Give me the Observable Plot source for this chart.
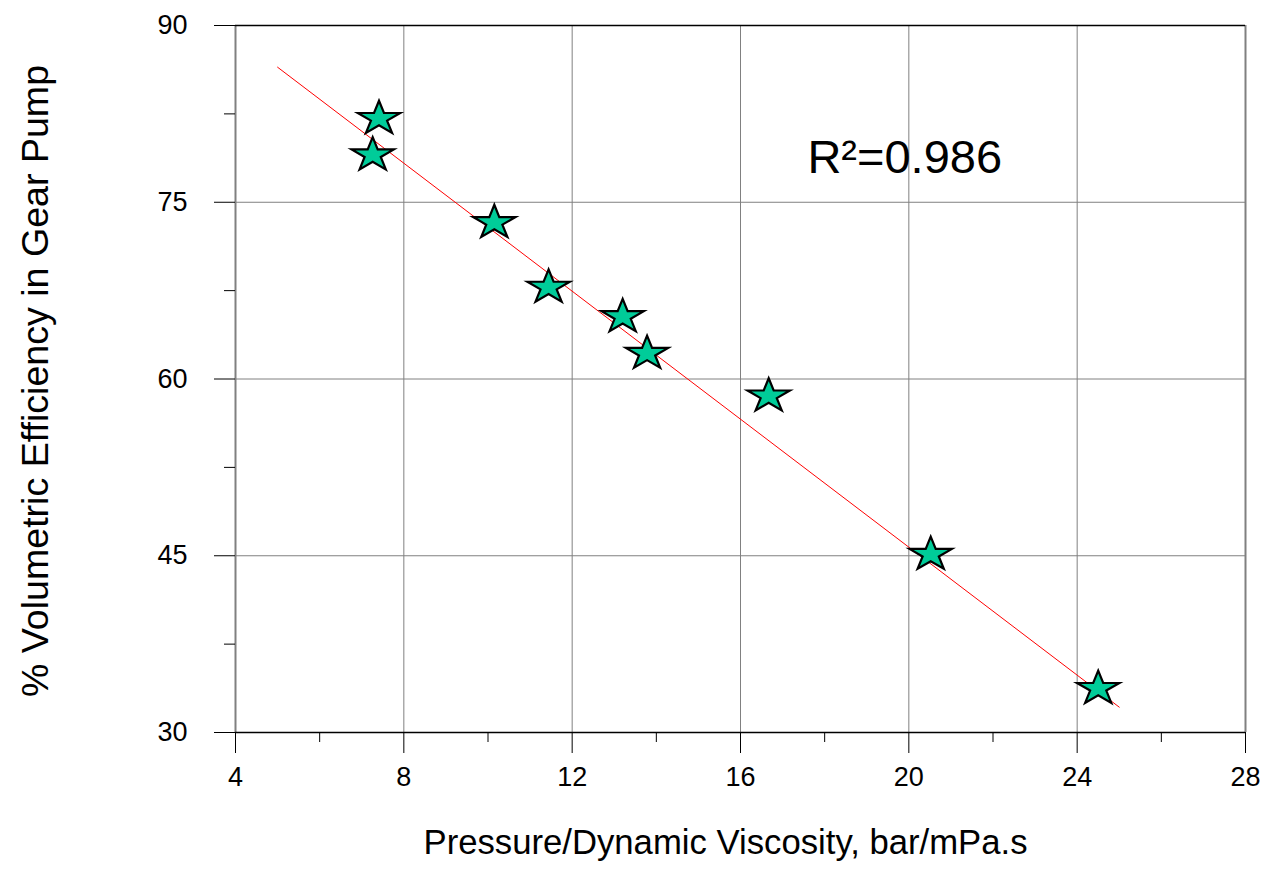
<!DOCTYPE html>
<html><head><meta charset="utf-8">
<script src="https://cdn.jsdelivr.net/npm/d3@7"></script>
<script src="https://cdn.jsdelivr.net/npm/@observablehq/plot@0.6"></script>
<style>html,body{margin:0;padding:0;background:#fff}</style>
</head><body><div id="chart"></div>
<script>
// Data
const pressureVisc = [7.41, 7.26, 10.15, 11.44, 13.20, 13.78, 16.67, 20.52, 24.50];
const efficiency   = [82.25, 79.16, 73.42, 67.93, 65.43, 62.32, 58.70, 45.26, 33.88];
const fitX = [5, 25];
const fitY = [86.46, 32.15];
const xMajor = [4, 8, 12, 16, 20, 24, 28];
const xMinor = [6, 10, 14, 18, 22, 26];
const yMajor = [30, 45, 60, 75, 90];
const yMinor = [37.5, 52.5, 67.5, 82.5];
const xLabel = "Pressure/Dynamic Viscosity, bar/mPa.s";
const yLabel = "% Volumetric Efficiency in Gear Pump";
const rSquared = "R²=0.986";

const pts = pressureVisc.map((x, i) => ({x, y: efficiency[i]}));
const fit = fitX.map((x, i) => ({x, y: fitY[i]}));

// Wide five-pointed star (Excel-style marker), centred on its bounding box
const wideStar = {
  draw(ctx, size) {
    const R = Math.sqrt(size / Math.PI);
    const ri = R * 0.382;
    const sx = 1.25;
    const shift = R * 0.0955;
    for (let i = 0; i < 10; i++) {
      const a = -Math.PI / 2 + i * Math.PI / 5;
      const rr = i % 2 ? ri : R;
      const x = Math.cos(a) * rr * sx, y = Math.sin(a) * rr + shift;
      if (i) ctx.lineTo(x, y); else ctx.moveTo(x, y);
    }
    ctx.closePath();
  }
};

const chart = Plot.plot({
  width: 1262, height: 870,
  marginLeft: 235, marginRight: 17, marginTop: 25, marginBottom: 138,
  x: {domain: [4, 28]},
  y: {domain: [30, 90]},
  style: {fontFamily: "'Liberation Sans', Arial, sans-serif", fontSize: "27px", background: "#fff", color: "#000", overflow: "visible"},
  marks: [
    Plot.gridX({ticks: xMajor.slice(1, -1), stroke: "#808080", strokeOpacity: 1, strokeWidth: 1}),
    Plot.gridY({ticks: yMajor.slice(1, -1), stroke: "#808080", strokeOpacity: 1, strokeWidth: 1}),
    Plot.ruleX([4, 28], {stroke: "#808080", strokeWidth: 2}),
    Plot.ruleY([30, 90], {stroke: "#000", strokeWidth: 1.5}),
    Plot.axisX({ticks: xMajor, tickSize: 21, tickPadding: 13, label: null, stroke: "#000"}),
    Plot.axisX({ticks: xMinor, tickSize: 10, text: null, label: null, stroke: "#000"}),
    Plot.axisY({ticks: yMajor, tickSize: 21, tickPadding: 27, label: null, stroke: "#000"}),
    Plot.axisY({ticks: yMinor, tickSize: 11, text: null, label: null, stroke: "#000"}),
    Plot.line(fit, {x: "x", y: "y", stroke: "#ff0000", strokeWidth: 1}),
    Plot.dot(pts, {x: "x", y: "y", symbol: wideStar, r: 17.8, fill: "#00cc99", stroke: "#000", strokeWidth: 2.2}),
    Plot.text([rSquared], {x: () => 17.59, y: () => 77.45, text: d => d, textAnchor: "start", lineAnchor: "bottom", fontSize: 47, fill: "#000"}),
    Plot.text([xLabel], {frameAnchor: "bottom", dx: -15, dy: 121, text: d => d, lineAnchor: "bottom", fontSize: 34.7, fill: "#000"}),
    Plot.text([yLabel], {frameAnchor: "left", dx: -200, dy: 2, text: d => d, rotate: -90, lineAnchor: "middle", textAnchor: "middle", fontSize: 37.6, fill: "#000"})
  ]
});
document.getElementById("chart").append(chart);
</script>
</body></html>
